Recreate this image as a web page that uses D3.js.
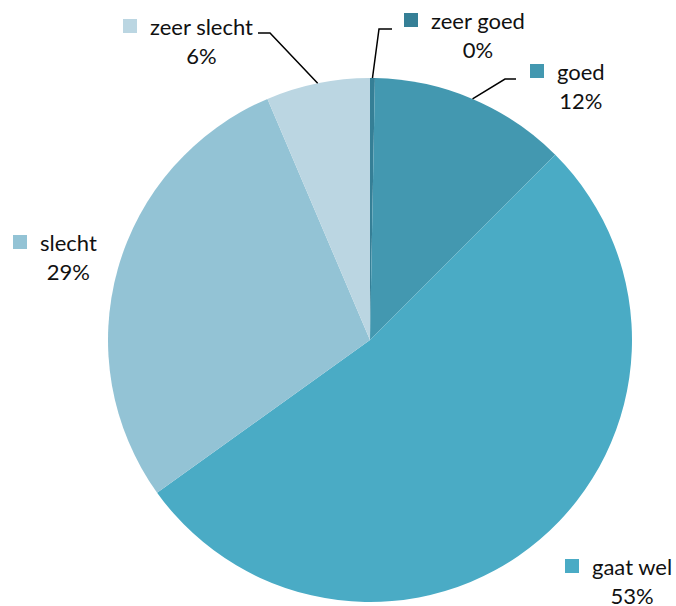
<!DOCTYPE html>
<html><head><meta charset="utf-8">
<script src="https://cdn.jsdelivr.net/npm/d3@7"></script>
<style>body{margin:0;background:#fff}svg{display:block}text{font-family:Lato,"Open Sans",sans-serif;fill:#111}</style>
</head><body>
<svg id="c" width="676" height="606"></svg>
<script>
const categories = ["zeer goed", "goed", "gaat wel", "slecht", "zeer slecht"];
const values = [0.3, 12.2, 52.6, 28.5, 6.4];
const pctLabels = ["0%", "12%", "53%", "29%", "6%"];
const colors = ["#357F96", "#4398B0", "#4AABC5", "#93C3D5", "#BBD6E2"];

// layout: label anchor (left x of square, baseline of first line)
const labelLayout = [
  {x: 404, y: 29, leader: [[392, 29], [379, 29]]},
  {x: 530, y: 80, leader: [[516, 79], [505, 79]]},
  {x: 565, y: 575, leader: null},
  {x: 13, y: 251, leader: null},
  {x: 123, y: 35, leader: [[258, 33], [270, 33]]}
];

const svg = d3.select("#c");
const cx = 370, cy = 340, R = 262;
const g = svg.append("g").attr("transform", `translate(${cx},${cy})`);
const pie = d3.pie().sort(null).value(d => d)(values);
const arc = d3.arc().innerRadius(0).outerRadius(R);
g.selectAll("path").data(pie).join("path")
  .attr("d", arc).attr("fill", (d, i) => colors[i])
  .attr("stroke", "none");

pie.forEach((d, i) => {
  const L = labelLayout[i];
  if (L.leader) {
    const mid = (d.startAngle + d.endAngle) / 2;
    const px = cx + R * Math.sin(mid), py = cy - R * Math.cos(mid);
    const pts = L.leader.concat([[px, py]]);
    svg.append("polyline").attr("points", pts.map(p => p.join(",")).join(" "))
      .attr("fill", "none").attr("stroke", "#000").attr("stroke-width", 1.5);
  }
  svg.append("rect").attr("x", L.x).attr("y", L.y - 16).attr("width", 14).attr("height", 14)
    .attr("fill", colors[i]);
  const t = svg.append("text").attr("x", L.x + 27).attr("y", L.y)
    .attr("font-size", 22).text(categories[i]);
  const w = t.node().getComputedTextLength();
  svg.append("text").attr("x", L.x + 27 + w / 2).attr("y", L.y + 29)
    .attr("font-size", 22).attr("text-anchor", "middle").text(pctLabels[i]);
});
</script>
</body></html>
